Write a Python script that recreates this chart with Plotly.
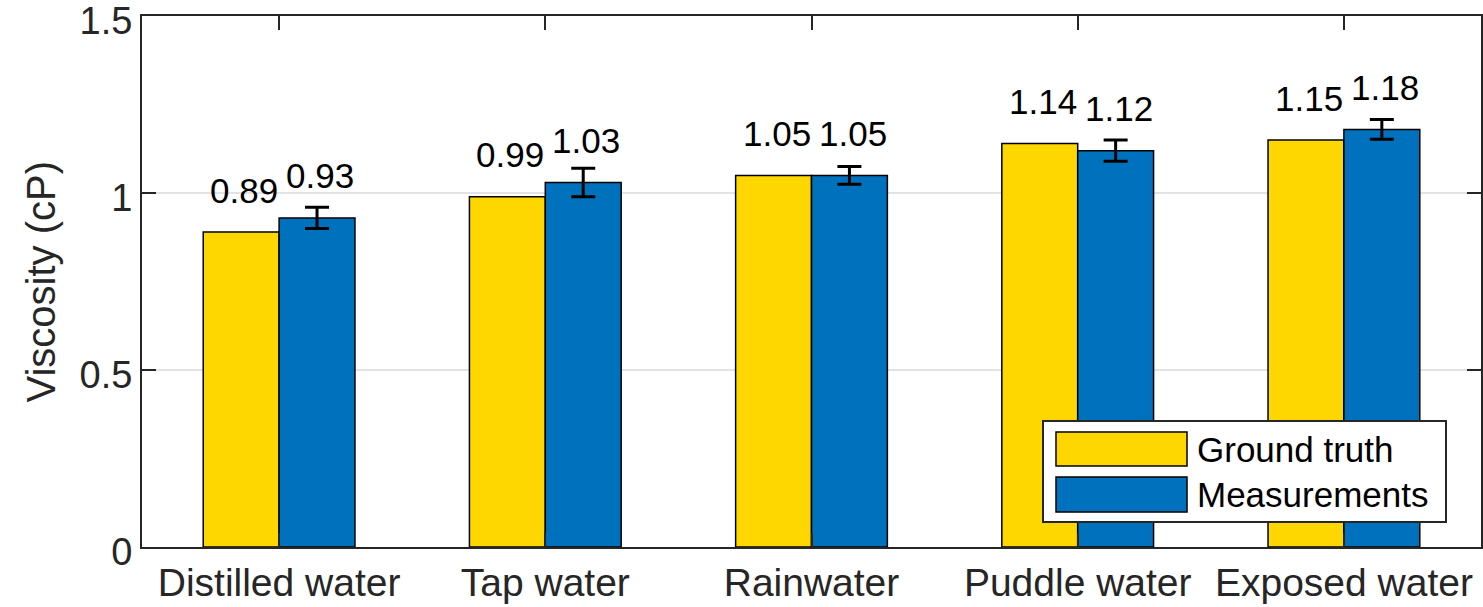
import plotly.graph_objects as go

# Water samples and measured viscosity (cP)
categories = ["Distilled water", "Tap water", "Rainwater", "Puddle water", "Exposed water"]
series_names = ["Ground truth", "Measurements"]
ground_truth = [0.89, 0.99, 1.05, 1.14, 1.15]
measurements = [0.93, 1.03, 1.05, 1.12, 1.18]
measurement_err = [0.03, 0.04, 0.025, 0.03, 0.028]
y_ticks = [0, 0.5, 1, 1.5]

colors = ["#FFD700", "#0072BD"]
axis_color = "#262626"
font_family = "Liberation Sans, Arial, Helvetica, sans-serif"

W, H = 1483, 607
M_L, M_R, M_T, M_B = 142, 2, 16, 60
PW, PH = W - M_L - M_R, H - M_T - M_B


def px_x(p):
    return (p - M_L) / PW


def px_y(p):
    return (H - M_B - p) / PH


xs = list(range(1, len(categories) + 1))

fig = go.Figure()
fig.add_trace(go.Bar(
    x=xs, y=ground_truth, name=series_names[0],
    marker=dict(color=colors[0], line=dict(color="#000000", width=1.5)),
    showlegend=False,
))
fig.add_trace(go.Bar(
    x=xs, y=measurements, name=series_names[1],
    marker=dict(color=colors[1], line=dict(color="#000000", width=1.5)),
    error_y=dict(type="data", array=measurement_err, color="#000000",
                 thickness=3, width=12),
    showlegend=False,
))

# Value labels above each bar
half_bar = 38
for series, dx in ((ground_truth, -half_bar), (measurements, half_bar)):
    for xi, v in zip(xs, series):
        fig.add_annotation(
            x=xi, y=v, xref="x", yref="y", text=f"{v:.2f}",
            showarrow=False, xshift=dx + 3, yshift=42,
            xanchor="center", yanchor="middle",
            font=dict(family=font_family, size=35, color="#000000"),
        )

# Legend box drawn with shapes
fig.add_shape(type="rect", xref="paper", yref="paper",
              x0=px_x(1043), x1=px_x(1446), y0=px_y(522), y1=px_y(421),
              fillcolor="#FFFFFF", line=dict(color=axis_color, width=2), layer="above")
swatch_rows = [(432, 466), (477, 512)]
for (top, bot), name, col in zip(swatch_rows, series_names, colors):
    fig.add_shape(type="rect", xref="paper", yref="paper",
                  x0=px_x(1056), x1=px_x(1187), y0=px_y(bot), y1=px_y(top),
                  fillcolor=col, line=dict(color="#000000", width=1.5), layer="above")
    fig.add_annotation(
        x=px_x(1195), y=px_y((top + bot) / 2), xref="paper", yref="paper",
        text=name, showarrow=False, xanchor="left", yanchor="middle",
        font=dict(family=font_family, size=35, color="#000000"),
    )

# Y-axis title
fig.add_annotation(
    x=px_x(40), y=0.5, xref="paper", yref="paper", text="Viscosity (cP)",
    textangle=-90, showarrow=False, xanchor="center", yanchor="middle",
    font=dict(family=font_family, size=40, color=axis_color),
)

fig.update_layout(
    width=W, height=H,
    margin=dict(l=M_L, r=M_R, t=M_T, b=M_B, autoexpand=False),
    paper_bgcolor="#FFFFFF", plot_bgcolor="#FFFFFF",
    barmode="group", bargap=0.43, bargroupgap=0,
    font=dict(family=font_family, color=axis_color),
    showlegend=False,
)
fig.update_xaxes(
    range=[0.485, 5.515], tickmode="array", tickvals=xs, ticktext=categories,
    ticks="inside", ticklen=14, tickwidth=2, tickcolor=axis_color,
    showline=True, linecolor=axis_color, linewidth=2, mirror="ticks",
    showgrid=False, zeroline=False,
    tickfont=dict(family=font_family, size=39, color=axis_color),
)
fig.update_yaxes(
    range=[0, 1.5005], tickmode="array", tickvals=y_ticks,
    ticks="inside", ticklen=14, tickwidth=2, tickcolor=axis_color,
    showline=True, linecolor=axis_color, linewidth=2, mirror="ticks",
    showgrid=True, gridcolor="#E3E3E3", gridwidth=1.5, zeroline=False,
    ticklabeloverflow="allow", ticklabelshift=5,
    tickfont=dict(family=font_family, size=38, color=axis_color),
)

fig.write_html("out.html")
